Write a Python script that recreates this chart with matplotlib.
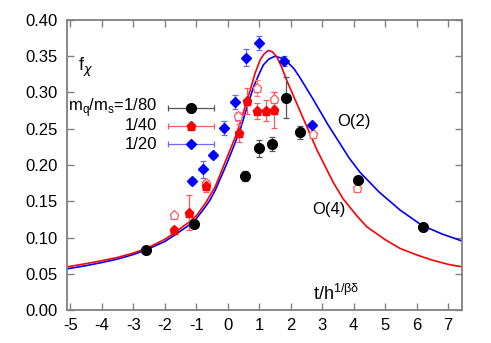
import matplotlib
matplotlib.use('Agg')
import matplotlib.pyplot as plt

plt.rcParams['font.family'] = ['Liberation Sans', 'DejaVu Sans']
plt.rcParams['axes.unicode_minus'] = False

# scaling function curves
o4_x = [-5.1, -4.5, -4.0, -3.5, -3.0, -2.5, -2.0, -1.7, -1.4, -1.2, -1.0, -0.7, -0.4, -0.14, 0.0,
        0.29, 0.5, 0.71, 0.87, 1.03, 1.15, 1.29, 1.42, 1.56, 1.7, 1.87, 2.19, 2.56, 2.83, 3.35,
        3.67, 4.06, 4.41, 5.0, 5.47, 6.0, 6.52, 7.0, 7.45]
o4_y = [0.0595, 0.0640, 0.0680, 0.0725, 0.0785, 0.0865, 0.0975, 0.106, 0.116, 0.122, 0.130, 0.148,
        0.170, 0.198, 0.213, 0.244, 0.273, 0.303, 0.327, 0.345, 0.353, 0.358, 0.356, 0.349, 0.336,
        0.317, 0.285, 0.248, 0.221, 0.176, 0.153, 0.132, 0.115, 0.097, 0.085, 0.076, 0.0685,
        0.063, 0.0595]
o2_x = [-5.1, -4.5, -4.0, -3.5, -3.0, -2.59, -2.0, -1.7, -1.4, -1.2, -1.0, -0.7, -0.56, -0.4,
        -0.03, 0.2, 0.39, 0.6, 0.82, 1.0, 1.13, 1.3, 1.5, 1.7, 1.87, 2.1, 2.3, 2.72, 3.19, 3.5,
        3.85, 4.2, 4.8, 5.47, 6.16, 6.8, 7.45]
o2_y = [0.0568, 0.0612, 0.0655, 0.0703, 0.0765, 0.083, 0.0945, 0.103, 0.112, 0.118, 0.126, 0.143,
        0.152, 0.165, 0.202, 0.227, 0.248, 0.278, 0.308, 0.326, 0.338, 0.346, 0.350, 0.3475, 0.343,
        0.333, 0.320, 0.290, 0.255, 0.234, 0.210, 0.190, 0.163, 0.138, 0.117, 0.105, 0.095]

# m_q/m_s = 1/80
b_x = [-2.59, -1.07, 0.55, 0.99, 1.41, 1.84, 2.28, 4.14, 6.20]
b_y = [0.083, 0.119, 0.185, 0.223, 0.229, 0.293, 0.245, 0.180, 0.115]
b_e = [0.002, 0.004, 0.007, 0.012, 0.010, 0.028, 0.009, 0.003, 0.003]

# m_q/m_s = 1/40 (filled)
r_x = [-1.72, -1.23, -0.70, 0.36, 0.62, 0.92, 1.20, 1.48]
r_y = [0.110, 0.134, 0.171, 0.244, 0.288, 0.274, 0.275, 0.276]
r_e = [0.004, 0.024, 0.008, 0.012, 0.018, 0.011, 0.015, 0.025]

# m_q/m_s = 1/40 (open)
ro_x = [-1.72, -0.70, 0.34, 0.93, 1.48, 2.72, 4.09]
ro_y = [0.131, 0.175, 0.267, 0.306, 0.291, 0.243, 0.168]
ro_e = [0.002, 0.004, 0.006, 0.011, 0.010, 0.003, 0.003]

# m_q/m_s = 1/20
u_x = [-1.13, -0.80, -0.47, -0.12, 0.23, 0.59, 0.99, 1.79, 2.67]
u_y = [0.178, 0.194, 0.214, 0.251, 0.287, 0.348, 0.368, 0.344, 0.255]
u_e = [0.004, 0.012, 0.004, 0.009, 0.010, 0.012, 0.010, 0.007, 0.003]

legend_labels = ['m$_\\mathregular{q}$/m$_\\mathregular{s}$=1/80', '1/40', '1/20']

fig = plt.figure(figsize=(4.91, 3.43), dpi=100)
ax = fig.add_axes([0.137, 0.0962, 0.8045, 0.8455])

ax.plot(o2_x, o2_y, color='#0000ff', lw=1.2, zorder=2)
ax.plot(o4_x, o4_y, color='#ff0000', lw=1.2, zorder=2)

ekw = dict(linestyle='none', capsize=2, elinewidth=0.9, capthick=0.9, zorder=3)
ax.errorbar(ro_x, ro_y, yerr=ro_e, fmt='p', ms=6.5, mfc='white', mec='#ff5a5a', mew=0.9,
            ecolor='#ff8080', **ekw)
ax.errorbar(b_x, b_y, yerr=b_e, fmt='o', ms=7, color='black', ecolor='#555555', **ekw)
ax.errorbar(r_x, r_y, yerr=r_e, fmt='p', ms=6.5, color='#ff0000', ecolor='#ff5a5a', **ekw)
ax.errorbar(u_x, u_y, yerr=u_e, fmt='D', ms=4.8, color='#0000ff', ecolor='#6a6aff', **ekw)

# legend in gnuplot style
leg_style = [('o', 7, 'black', '#555555'), ('p', 6.5, '#ff0000', '#ff5a5a'),
             ('D', 4.8, '#0000ff', '#6a6aff')]
for i, (lab, (mk, ms, c, ec)) in enumerate(zip(legend_labels, leg_style)):
    yy = 0.697 - i * 0.0625
    ax.text(0.227, yy, lab, transform=ax.transAxes, ha='right', va='center', fontsize=12)
    ax.errorbar([0.313], [yy], xerr=[0.058], fmt=mk, ms=ms, color=c, ecolor=ec,
                transform=ax.transAxes, clip_on=False, **ekw)

ax.text(0.027, 0.875, 'f$_\\chi$', transform=ax.transAxes, ha='left', va='top', fontsize=13)
ax.text(0.683, 0.65, 'O(2)', transform=ax.transAxes, ha='left', va='center', fontsize=12)
ax.text(0.619, 0.347, 'O(4)', transform=ax.transAxes, ha='left', va='center', fontsize=12)
ax.text(0.623, 0.035, 't/h$^{\\mathregular{1/\\beta\\delta}}$', transform=ax.transAxes,
        ha='left', va='baseline', fontsize=13)

ax.set_xlim(-5.1, 7.45)
ax.set_ylim(0, 0.4)
ax.set_xticks(range(-5, 8))
ax.set_yticks([0.0, 0.05, 0.10, 0.15, 0.20, 0.25, 0.30, 0.35, 0.40])
ax.set_yticklabels(['%.2f' % v for v in ax.get_yticks()])
ax.tick_params(direction='in', top=True, right=True, length=5, width=1, color='#808080',
               labelsize=12)
ax.tick_params(axis='y', pad=7)
ax.tick_params(axis='x', pad=6)
for s in ax.spines.values():
    s.set_color('#808080')
    s.set_linewidth(1.3)

fig.savefig('out.png', dpi=100)
